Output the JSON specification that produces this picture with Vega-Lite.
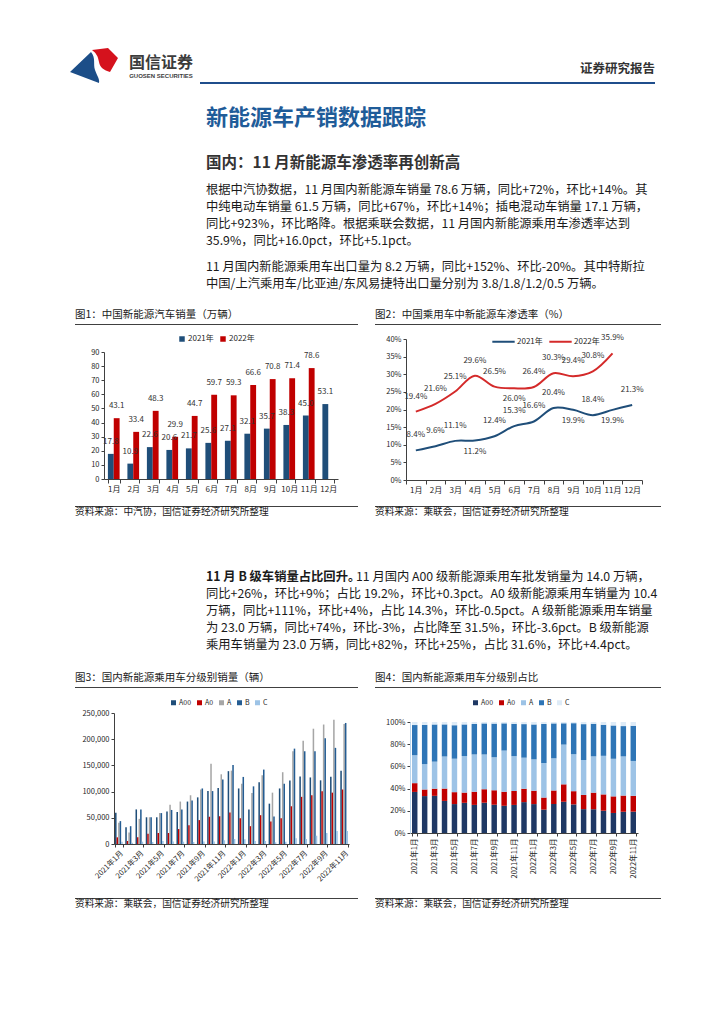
{
"$schema":"https://vega.github.io/schema/vega-lite/v6.json",
"background":"white",
"padding":0,
"spacing":0,
"bounds":"flush",
"resolve":{"scale":{"color":"independent","shape":"independent","xOffset":"independent"},"legend":{"color":"independent","shape":"independent"}},
"config":{
 "view":{"stroke":null},
 "font":"Noto Sans CJK SC",
 "concat":{"spacing":0},
 "axis":{"labelFont":"Noto Sans CJK SC","labelColor":"#262626","domainColor":"#404040","tickColor":"#404040","grid":false,"labelFontSize":8,"domainWidth":1,"tickWidth":1},
 "legend":{"labelFont":"Noto Sans CJK SC","labelColor":"#262626","labelFontSize":8}
},
"datasets":{
 "nev":[{"m":"1月","year":"2021年","v":17.8},{"m":"2月","year":"2021年","v":10.9},{"m":"3月","year":"2021年","v":22.6},{"m":"4月","year":"2021年","v":20.6},{"m":"5月","year":"2021年","v":21.7},{"m":"6月","year":"2021年","v":25.6},{"m":"7月","year":"2021年","v":27.1},{"m":"8月","year":"2021年","v":32.1},{"m":"9月","year":"2021年","v":35.7},{"m":"10月","year":"2021年","v":38.3},{"m":"11月","year":"2021年","v":45.0},{"m":"12月","year":"2021年","v":53.1},
  {"m":"1月","year":"2022年","v":43.1},{"m":"2月","year":"2022年","v":33.4},{"m":"3月","year":"2022年","v":48.3},{"m":"4月","year":"2022年","v":29.9},{"m":"5月","year":"2022年","v":44.7},{"m":"6月","year":"2022年","v":59.7},{"m":"7月","year":"2022年","v":59.3},{"m":"8月","year":"2022年","v":66.6},{"m":"9月","year":"2022年","v":70.8},{"m":"10月","year":"2022年","v":71.4},{"m":"11月","year":"2022年","v":78.6}],
 "pen":[{"m":"1月","year":"2021年","v":0.084},{"m":"2月","year":"2021年","v":0.096},{"m":"3月","year":"2021年","v":0.111},{"m":"4月","year":"2021年","v":0.112},{"m":"5月","year":"2021年","v":0.124},{"m":"6月","year":"2021年","v":0.153},{"m":"7月","year":"2021年","v":0.166},{"m":"8月","year":"2021年","v":0.204},{"m":"9月","year":"2021年","v":0.199},{"m":"10月","year":"2021年","v":0.184},{"m":"11月","year":"2021年","v":0.199},{"m":"12月","year":"2021年","v":0.213},
  {"m":"1月","year":"2022年","v":0.194},{"m":"2月","year":"2022年","v":0.216},{"m":"3月","year":"2022年","v":0.251},{"m":"4月","year":"2022年","v":0.296},{"m":"5月","year":"2022年","v":0.265},{"m":"6月","year":"2022年","v":0.260},{"m":"7月","year":"2022年","v":0.264},{"m":"8月","year":"2022年","v":0.303},{"m":"9月","year":"2022年","v":0.294},{"m":"10月","year":"2022年","v":0.308},{"m":"11月","year":"2022年","v":0.359}],
 "clsOrder":[{"cls":"A00","rank":1},{"cls":"A0","rank":2},{"cls":"A","rank":3},{"cls":"B","rank":4},{"cls":"C","rank":5}],
 "cls":[
  {"ym":"2021年1月","cls":"A00","v":59500},{"ym":"2021年1月","cls":"A0","v":12700},{"ym":"2021年1月","cls":"A","v":40500},{"ym":"2021年1月","cls":"B","v":43700},{"ym":"2021年1月","cls":"C","v":4400},
  {"ym":"2021年2月","cls":"A00","v":32000},{"ym":"2021年2月","cls":"A0","v":5700},{"ym":"2021年2月","cls":"A","v":22000},{"ym":"2021年2月","cls":"B","v":34000},{"ym":"2021年2月","cls":"C","v":2500},
  {"ym":"2021年3月","cls":"A00","v":66000},{"ym":"2021年3月","cls":"A0","v":12700},{"ym":"2021年3月","cls":"A","v":48000},{"ym":"2021年3月","cls":"B","v":66000},{"ym":"2021年3月","cls":"C","v":4400},
  {"ym":"2021年4月","cls":"A00","v":51000},{"ym":"2021年4月","cls":"A0","v":19600},{"ym":"2021年4月","cls":"A","v":51000},{"ym":"2021年4月","cls":"B","v":51000},{"ym":"2021年4月","cls":"C","v":3800},
  {"ym":"2021年5月","cls":"A00","v":51000},{"ym":"2021年5月","cls":"A0","v":21000},{"ym":"2021年5月","cls":"A","v":59000},{"ym":"2021年5月","cls":"B","v":59000},{"ym":"2021年5月","cls":"C","v":5700},
  {"ym":"2021年6月","cls":"A00","v":62000},{"ym":"2021年6月","cls":"A0","v":21000},{"ym":"2021年6月","cls":"A","v":75000},{"ym":"2021年6月","cls":"B","v":65000},{"ym":"2021年6月","cls":"C","v":5000},
  {"ym":"2021年7月","cls":"A00","v":61000},{"ym":"2021年7月","cls":"A0","v":28500},{"ym":"2021年7月","cls":"A","v":81000},{"ym":"2021年7月","cls":"B","v":66000},{"ym":"2021年7月","cls":"C","v":4400},
  {"ym":"2021年8月","cls":"A00","v":81000},{"ym":"2021年8月","cls":"A0","v":36000},{"ym":"2021年8月","cls":"A","v":93000},{"ym":"2021年8月","cls":"B","v":83000},{"ym":"2021年8月","cls":"C","v":3800},
  {"ym":"2021年9月","cls":"A00","v":89000},{"ym":"2021年9月","cls":"A0","v":45600},{"ym":"2021年9月","cls":"A","v":104000},{"ym":"2021年9月","cls":"B","v":106000},{"ym":"2021年9月","cls":"C","v":5000},
  {"ym":"2021年10月","cls":"A00","v":101000},{"ym":"2021年10月","cls":"A0","v":52000},{"ym":"2021年10月","cls":"A","v":153000},{"ym":"2021年10月","cls":"B","v":101000},{"ym":"2021年10月","cls":"C","v":5000},
  {"ym":"2021年11月","cls":"A00","v":107000},{"ym":"2021年11月","cls":"A0","v":53000},{"ym":"2021年11月","cls":"A","v":133000},{"ym":"2021年11月","cls":"B","v":123000},{"ym":"2021年11月","cls":"C","v":7000},
  {"ym":"2021年12月","cls":"A00","v":139000},{"ym":"2021年12月","cls":"A0","v":60000},{"ym":"2021年12月","cls":"A","v":140000},{"ym":"2021年12月","cls":"B","v":151000},{"ym":"2021年12月","cls":"C","v":9500},
  {"ym":"2022年1月","cls":"A00","v":106000},{"ym":"2022年1月","cls":"A0","v":49000},{"ym":"2022年1月","cls":"A","v":115000},{"ym":"2022年1月","cls":"B","v":128000},{"ym":"2022年1月","cls":"C","v":9000},
  {"ym":"2022年2月","cls":"A00","v":66000},{"ym":"2022年2月","cls":"A0","v":34000},{"ym":"2022年2月","cls":"A","v":97500},{"ym":"2022年2月","cls":"B","v":110000},{"ym":"2022年2月","cls":"C","v":5700},
  {"ym":"2022年3月","cls":"A00","v":118000},{"ym":"2022年3月","cls":"A0","v":55000},{"ym":"2022年3月","cls":"A","v":131000},{"ym":"2022年3月","cls":"B","v":142000},{"ym":"2022年3月","cls":"C","v":5700},
  {"ym":"2022年4月","cls":"A00","v":77000},{"ym":"2022年4月","cls":"A0","v":43000},{"ym":"2022年4月","cls":"A","v":98000},{"ym":"2022年4月","cls":"B","v":52500},{"ym":"2022年4月","cls":"C","v":3200},
  {"ym":"2022年5月","cls":"A00","v":106000},{"ym":"2022年5月","cls":"A0","v":49000},{"ym":"2022年5月","cls":"A","v":137000},{"ym":"2022年5月","cls":"B","v":115000},{"ym":"2022年5月","cls":"C","v":4400},
  {"ym":"2022年6月","cls":"A00","v":121000},{"ym":"2022年6月","cls":"A0","v":72000},{"ym":"2022年6月","cls":"A","v":177000},{"ym":"2022年6月","cls":"B","v":182000},{"ym":"2022年6月","cls":"C","v":10800},
  {"ym":"2022年7月","cls":"A00","v":129000},{"ym":"2022年7月","cls":"A0","v":90000},{"ym":"2022年7月","cls":"A","v":197000},{"ym":"2022年7月","cls":"B","v":177000},{"ym":"2022年7月","cls":"C","v":9500},
  {"ym":"2022年8月","cls":"A00","v":127000},{"ym":"2022年8月","cls":"A0","v":93000},{"ym":"2022年8月","cls":"A","v":220000},{"ym":"2022年8月","cls":"B","v":177000},{"ym":"2022年8月","cls":"C","v":15800},
  {"ym":"2022年9月","cls":"A00","v":121500},{"ym":"2022年9月","cls":"A0","v":100600},{"ym":"2022年9月","cls":"A","v":228000},{"ym":"2022年9月","cls":"B","v":202000},{"ym":"2022年9月","cls":"C","v":21000},
  {"ym":"2022年10月","cls":"A00","v":128500},{"ym":"2022年10月","cls":"A0","v":98000},{"ym":"2022年10月","cls":"A","v":237000},{"ym":"2022年10月","cls":"B","v":183500},{"ym":"2022年10月","cls":"C","v":24700},
  {"ym":"2022年11月","cls":"A00","v":140000},{"ym":"2022年11月","cls":"A0","v":104000},{"ym":"2022年11月","cls":"A","v":229000},{"ym":"2022年11月","cls":"B","v":231000},{"ym":"2022年11月","cls":"C","v":24700}
 ]
},
"vconcat":[
 {"width":724,"height":48,"data":{"values":[]},"mark":"point"},
 {"hconcat":[
  {"width":70,"height":1,"data":{"values":[]},"mark":"point"},
  {"width":50,"height":34,"data":{"values":[{"part":"blue"},{"part":"red"}]},"mark":{"type":"point","filled":true,"opacity":1,"size":2500,"strokeWidth":0},"encoding":{"shape":{"field":"part","type":"nominal","scale":{"domain":["blue","red"],"range":["M-1,0.28L-0.16,-0.52C0.04,-0.28,-0.08,-0.04,0,0.2C0.08,0.44,0.2,0.56,0.16,0.72Z","M-0.12,-0.6L0.52,-0.68L0.92,-0.28L0.6,0.28C0.36,0.2,0.2,0.12,0.16,-0.12C0.12,-0.36,0.04,-0.48,-0.12,-0.6Z"]},"legend":null},"color":{"field":"part","type":"nominal","scale":{"domain":["blue","red"],"range":["#1c4e88","#d5121d"]},"legend":null}}},
  {"width":6,"height":1,"data":{"values":[]},"mark":"point"},
  {"vconcat":[
    {"width":1,"height":7,"data":{"values":[]},"mark":"point"},
    {"width":70,"height":16,"data":{"values":[{"t":"国信证券"}]},"mark":{"type":"text","fontSize":16,"fontWeight":"bold","color":"#3c3c3c","baseline":"middle"},"encoding":{"text":{"field":"t"}}},
    {"width":70,"height":9,"data":{"values":[{"t":"GUOSEN SECURITIES"}]},"mark":{"type":"text","fontSize":6,"fontWeight":"bold","color":"#3c3c3c","baseline":"middle","font":"Liberation Sans"},"encoding":{"text":{"field":"t"}}}
  ],"spacing":0,"bounds":"flush"},
  {"width":74,"height":1,"data":{"values":[]},"mark":"point"},
  {"vconcat":[
    {"width":1,"height":8,"data":{"values":[]},"mark":"point"},
    {"hconcat":[
      {"width":380,"height":1,"data":{"values":[]},"mark":"point"},
      {"width":75,"height":26,"data":{"values":[{"t":"证券研究报告"}]},"mark":{"type":"text","fontSize":12.5,"fontWeight":"bold","color":"#333333","baseline":"middle"},"encoding":{"text":{"field":"t"}}}
    ],"spacing":0,"bounds":"flush"},
    {"width":1,"height":26,"data":{"values":[]},"mark":"point"},
    {"width":455,"height":2,"data":{"values":[{}]},"mark":{"type":"rect","color":"#1f4e8c"}}
  ],"spacing":0,"bounds":"flush"}
 ],"spacing":0,"bounds":"flush"},
 {"width":724,"height":36,"data":{"values":[]},"mark":"point"},
 {"hconcat":[
  {"width":206,"height":1,"data":{"values":[]},"mark":"point"},
  {"vconcat":[
    {"width":1,"height":24,"data":{"values":[]},"mark":"point"},
    {"width":450,"height":20,"data":{"values":[{"t":"新能源车产销数据跟踪"}]},"mark":{"type":"text","align":"left","baseline":"middle","fontSize":22,"fontWeight":"bold","color":"#1f5c99"},"encoding":{"text":{"field":"t"},"x":{"value":0}}},
    {"width":1,"height":26,"data":{"values":[]},"mark":"point"},
    {"width":450,"height":17,"data":{"values":[{"t":"国内：11 月新能源车渗透率再创新高"}]},"mark":{"type":"text","align":"left","baseline":"middle","fontSize":15.5,"fontWeight":"bold","color":"#333333"},"encoding":{"text":{"field":"t"},"x":{"value":0}}},
    {"width":1,"height":10,"data":{"values":[]},"mark":"point"},
    {"width":450,"height":68,"data":{"values":[
      {"i":1,"t":"根据中汽协数据，11 月国内新能源车销量 78.6 万辆，同比+72%，环比+14%。其"},
      {"i":2,"t":"中纯电动车销量 61.5 万辆，同比+67%，环比+14%；插电混动车销量 17.1 万辆，"},
      {"i":3,"t":"同比+923%，环比略降。根据乘联会数据，11 月国内新能源乘用车渗透率达到"},
      {"i":4,"t":"35.9%，同比+16.0pct，环比+5.1pct。"}]},
     "mark":{"type":"text","align":"left","baseline":"middle","fontSize":12.3,"color":"#1a1a1a"},"encoding":{"text":{"field":"t"},"x":{"value":0},"y":{"field":"i","type":"ordinal","axis":null}}},
    {"width":1,"height":9,"data":{"values":[]},"mark":"point"},
    {"width":450,"height":34,"data":{"values":[
      {"i":1,"t":"11 月国内新能源乘用车出口量为 8.2 万辆，同比+152%、环比-20%。其中特斯拉"},
      {"i":2,"t":"中国/上汽乘用车/比亚迪/东风易捷特出口量分别为 3.8/1.8/1.2/0.5 万辆。"}]},
     "mark":{"type":"text","align":"left","baseline":"middle","fontSize":12.3,"color":"#1a1a1a"},"encoding":{"text":{"field":"t"},"x":{"value":0},"y":{"field":"i","type":"ordinal","axis":null}}}
  ],"spacing":0,"bounds":"flush"}
 ],"spacing":0,"bounds":"flush"},
 {"width":724,"height":216,"data":{"values":[]},"mark":"point"},
 {"hconcat":[
  {"width":75,"height":1,"data":{"values":[]},"mark":"point"},
  {"vconcat":[
    {"width":1,"height":6,"data":{"values":[]},"mark":"point"},
    {"width":283,"height":18,"data":{"values":[{"t":"图1：中国新能源汽车销量（万辆）"}]},"mark":{"type":"text","align":"left","baseline":"middle","fontSize":10.5,"color":"#1a1a1a"},"encoding":{"text":{"field":"t"},"x":{"value":0}}},
    {"width":283,"height":1,"data":{"values":[{}]},"mark":{"type":"rect","color":"#404040"}},
    {"width":1,"height":27,"data":{"values":[]},"mark":"point"},
    {"hconcat":[
      {"width":29,"height":1,"data":{"values":[]},"mark":"point"},
      {"width":234,"height":127,"data":{"name":"nev"},
       "encoding":{
         "x":{"field":"m","type":"ordinal","sort":["1月","2月","3月","4月","5月","6月","7月","8月","9月","10月","11月","12月"],"title":null,"scale":{"paddingInner":0.4,"paddingOuter":0.2},"axis":{"labelAngle":0,"tickBand":"extent","tickSize":4,"labelPadding":2,"labelFontSize":8}},
         "xOffset":{"field":"year","type":"nominal","sort":["2021年","2022年"],"scale":{"paddingInner":0,"paddingOuter":0}},
         "y":{"field":"v","type":"quantitative","title":null,"scale":{"domain":[0,90],"nice":false},"axis":{"values":[0,10,20,30,40,50,60,70,80,90],"tickSize":3,"labelPadding":2,"labelFontSize":7.5}}
       },
       "layer":[
         {"mark":{"type":"bar"},"encoding":{"color":{"field":"year","type":"nominal","scale":{"domain":["2021年","2022年"],"range":["#1f4e79","#c00000"]},"legend":{"orient":"none","legendX":74,"legendY":-17,"direction":"horizontal","title":null,"symbolType":"square","symbolSize":30,"labelFontSize":8,"columnPadding":5,"labelOffset":2,"symbolStrokeWidth":0}}}},
         {"mark":{"type":"text","baseline":"middle","dy":-12,"fontSize":8,"color":"#333333"},"encoding":{"text":{"field":"v","type":"quantitative","format":".1f"}}}
       ]}
    ],"spacing":0,"bounds":"flush","resolve":{"scale":{"color":"independent","xOffset":"independent"},"legend":{"color":"independent"}}},
    {"width":1,"height":154,"data":{"values":[]},"mark":"point"},
    {"width":283,"height":1,"data":{"values":[{}]},"mark":{"type":"rect","color":"#404040"}},
    {"width":283,"height":10,"data":{"values":[{"t":"资料来源：中汽协，国信证券经济研究所整理"}]},"mark":{"type":"text","align":"left","baseline":"middle","fontSize":9.7,"color":"#1a1a1a"},"encoding":{"text":{"field":"t"},"x":{"value":0}}}
  ],"spacing":0,"bounds":"flush","resolve":{"scale":{"color":"independent","xOffset":"independent"},"legend":{"color":"independent"}}},
  {"width":300,"height":1,"data":{"values":[]},"mark":"point"},
  {"vconcat":[
    {"width":1,"height":6,"data":{"values":[]},"mark":"point"},
    {"width":286,"height":18,"data":{"values":[{"t":"图2：中国乘用车中新能源车渗透率（%）"}]},"mark":{"type":"text","align":"left","baseline":"middle","fontSize":10.5,"color":"#1a1a1a"},"encoding":{"text":{"field":"t"},"x":{"value":0}}},
    {"width":286,"height":1,"data":{"values":[{}]},"mark":{"type":"rect","color":"#404040"}},
    {"width":1,"height":14,"data":{"values":[]},"mark":"point"},
    {"hconcat":[
      {"width":31,"height":1,"data":{"values":[]},"mark":"point"},
      {"width":236,"height":141,"data":{"name":"pen"},
       "encoding":{
         "x":{"field":"m","type":"ordinal","sort":["1月","2月","3月","4月","5月","6月","7月","8月","9月","10月","11月","12月"],"title":null,"scale":{"type":"band","paddingInner":0,"paddingOuter":0},"axis":{"labelAngle":0,"tickBand":"extent","tickSize":4,"labelPadding":2,"labelFontSize":8}},
         "y":{"field":"v","type":"quantitative","title":null,"scale":{"domain":[0,0.4],"nice":false},"axis":{"format":".0%","values":[0,0.05,0.1,0.15,0.2,0.25,0.3,0.35,0.4],"tickSize":3,"labelPadding":2,"labelFontSize":7.5}}
       },
       "layer":[
         {"mark":{"type":"line","interpolate":"catmull-rom","strokeWidth":2},"encoding":{"color":{"field":"year","type":"nominal","scale":{"domain":["2021年","2022年"],"range":["#1f4e79","#d42a2a"]},"legend":{"orient":"none","legendX":85,"legendY":-10,"direction":"horizontal","title":null,"symbolType":"stroke","symbolSize":500,"symbolStrokeWidth":2,"labelFontSize":8,"columnPadding":2,"labelOffset":1}}}},
         {"transform":[{"filter":"!((datum.year=='2021年'&&(datum.m=='4月'||datum.m=='9月'||datum.m=='11月'))||(datum.year=='2022年'&&datum.m=='6月'))"}],"mark":{"type":"text","baseline":"middle","dy":-15,"fontSize":8,"color":"#333333"},"encoding":{"text":{"field":"v","type":"quantitative","format":".1%"}}},
         {"transform":[{"filter":"(datum.year=='2021年'&&(datum.m=='4月'||datum.m=='9月'||datum.m=='11月'))||(datum.year=='2022年'&&datum.m=='6月')"}],"mark":{"type":"text","baseline":"middle","dy":11,"fontSize":8,"color":"#333333"},"encoding":{"text":{"field":"v","type":"quantitative","format":".1%"}}}
       ]}
    ],"spacing":0,"bounds":"flush","resolve":{"scale":{"color":"independent"},"legend":{"color":"independent"}}},
    {"width":1,"height":167,"data":{"values":[]},"mark":"point"},
    {"width":286,"height":1,"data":{"values":[{}]},"mark":{"type":"rect","color":"#404040"}},
    {"width":286,"height":10,"data":{"values":[{"t":"资料来源：乘联会，国信证券经济研究所整理"}]},"mark":{"type":"text","align":"left","baseline":"middle","fontSize":9.7,"color":"#1a1a1a"},"encoding":{"text":{"field":"t"},"x":{"value":0}}}
  ],"spacing":0,"bounds":"flush","resolve":{"scale":{"color":"independent"},"legend":{"color":"independent"}}}
 ],"spacing":0,"bounds":"flush","resolve":{"scale":{"color":"independent","xOffset":"independent"},"legend":{"color":"independent"}}},
 {"width":724,"height":217,"data":{"values":[]},"mark":"point"},
 {"hconcat":[
  {"width":206,"height":1,"data":{"values":[]},"mark":"point"},
  {"vconcat":[
    {"width":1,"height":51,"data":{"values":[]},"mark":"point"},
    {"hconcat":[
      {"width":150,"height":17,"data":{"values":[{"t":"11 月 B 级车销量占比回升。"}]},"mark":{"type":"text","align":"left","baseline":"middle","fontSize":12.3,"fontWeight":"bold","color":"#1a1a1a"},"encoding":{"text":{"field":"t"},"x":{"value":0}}},
      {"width":300,"height":17,"data":{"values":[{"t":"11 月国内 A00 级新能源乘用车批发销量为 14.0 万辆，"}]},"mark":{"type":"text","align":"left","baseline":"middle","fontSize":12.3,"color":"#1a1a1a"},"encoding":{"text":{"field":"t"},"x":{"value":0}}}
    ],"spacing":0,"bounds":"flush"},
    {"width":1,"height":17,"data":{"values":[]},"mark":"point"},
    {"width":450,"height":68,"data":{"values":[
      {"i":2,"t":"同比+26%，环比+9%；占比 19.2%，环比+0.3pct。A0 级新能源乘用车销量为 10.4"},
      {"i":3,"t":"万辆，同比+111%，环比+4%，占比 14.3%，环比-0.5pct。A 级新能源乘用车销量"},
      {"i":4,"t":"为 23.0 万辆，同比+74%，环比-3%，占比降至 31.5%，环比-3.6pct。B 级新能源"},
      {"i":5,"t":"乘用车销量为 23.0 万辆，同比+82%，环比+25%，占比 31.6%，环比+4.4pct。"}]},
     "mark":{"type":"text","align":"left","baseline":"middle","fontSize":12.3,"color":"#1a1a1a"},"encoding":{"text":{"field":"t"},"x":{"value":0},"y":{"field":"i","type":"ordinal","axis":null}}}
  ],"spacing":0,"bounds":"flush"}
 ],"spacing":0,"bounds":"flush"},
 {"width":724,"height":148,"data":{"values":[]},"mark":"point"},
 {"hconcat":[
  {"width":75,"height":1,"data":{"values":[]},"mark":"point"},
  {"vconcat":[
    {"width":1,"height":4,"data":{"values":[]},"mark":"point"},
    {"width":283,"height":18,"data":{"values":[{"t":"图3：国内新能源乘用车分级别销量（辆）"}]},"mark":{"type":"text","align":"left","baseline":"middle","fontSize":10.5,"color":"#1a1a1a"},"encoding":{"text":{"field":"t"},"x":{"value":0}}},
    {"width":283,"height":1,"data":{"values":[{}]},"mark":{"type":"rect","color":"#404040"}},
    {"width":1,"height":25,"data":{"values":[]},"mark":"point"},
    {"hconcat":[
      {"width":39,"height":1,"data":{"values":[]},"mark":"point"},
      {"width":235,"height":131,"data":{"name":"cls"},"mark":{"type":"bar"},
       "encoding":{
         "x":{"field":"ym","type":"ordinal","sort":null,"title":null,"scale":{"paddingInner":0.25,"paddingOuter":0.1},"axis":{"values":["2021年1月","2021年3月","2021年5月","2021年7月","2021年9月","2021年11月","2022年1月","2022年3月","2022年5月","2022年7月","2022年9月","2022年11月"],"labelAngle":-45,"tickBand":"extent","tickSize":3,"labelPadding":2,"labelFontSize":7.5}},
         "xOffset":{"field":"cls","type":"nominal","sort":["A00","A0","A","B","C"],"scale":{"paddingInner":0,"paddingOuter":0}},
         "y":{"field":"v","type":"quantitative","title":null,"scale":{"domain":[0,250000],"nice":false},"axis":{"values":[0,50000,100000,150000,200000,250000],"format":",.0f","tickSize":3,"labelPadding":2,"labelFontSize":7.5}},
         "color":{"field":"cls","type":"nominal","scale":{"domain":["A00","A0","A","B","C"],"range":["#1f4e79","#c00000","#a6a6a6","#255d93","#9dc3e6"]},"legend":{"orient":"none","legendX":56,"legendY":-14,"direction":"horizontal","title":null,"symbolType":"square","symbolSize":25,"labelFontSize":7,"columnPadding":4,"labelOffset":2,"symbolStrokeWidth":0}}
       }}
    ],"spacing":0,"bounds":"flush","resolve":{"scale":{"color":"independent","xOffset":"independent"},"legend":{"color":"independent"}}},
    {"width":1,"height":185,"data":{"values":[]},"mark":"point"},
    {"width":283,"height":1,"data":{"values":[{}]},"mark":{"type":"rect","color":"#404040"}},
    {"width":283,"height":10,"data":{"values":[{"t":"资料来源：乘联会，国信证券经济研究所整理"}]},"mark":{"type":"text","align":"left","baseline":"middle","fontSize":9.7,"color":"#1a1a1a"},"encoding":{"text":{"field":"t"},"x":{"value":0}}}
  ],"spacing":0,"bounds":"flush","resolve":{"scale":{"color":"independent","xOffset":"independent"},"legend":{"color":"independent"}}},
  {"width":300,"height":1,"data":{"values":[]},"mark":"point"},
  {"vconcat":[
    {"width":1,"height":4,"data":{"values":[]},"mark":"point"},
    {"width":286,"height":18,"data":{"values":[{"t":"图4：国内新能源乘用车分级别占比"}]},"mark":{"type":"text","align":"left","baseline":"middle","fontSize":10.5,"color":"#1a1a1a"},"encoding":{"text":{"field":"t"},"x":{"value":0}}},
    {"width":286,"height":1,"data":{"values":[{}]},"mark":{"type":"rect","color":"#404040"}},
    {"width":1,"height":34,"data":{"values":[]},"mark":"point"},
    {"hconcat":[
      {"width":35,"height":1,"data":{"values":[]},"mark":"point"},
      {"width":228,"height":111,"data":{"name":"cls"},
       "transform":[{"lookup":"cls","from":{"data":{"name":"clsOrder"},"key":"cls","fields":["rank"]}}],
       "mark":{"type":"bar"},
       "encoding":{
         "x":{"field":"ym","type":"ordinal","sort":null,"title":null,"scale":{"paddingInner":0.45,"paddingOuter":0.2},"axis":{"values":["2021年1月","2021年3月","2021年5月","2021年7月","2021年9月","2021年11月","2022年1月","2022年3月","2022年5月","2022年7月","2022年9月","2022年11月"],"labelAngle":-90,"tickBand":"extent","tickSize":3,"labelPadding":2,"labelFontSize":7.5}},
         "y":{"field":"v","type":"quantitative","stack":"normalize","title":null,"scale":{"domain":[0,1],"nice":false},"axis":{"format":".0%","values":[0,0.2,0.4,0.6,0.8,1],"tickSize":3,"labelPadding":2,"labelFontSize":7.5,"domainColor":"#bdd7ee"}},
         "order":{"field":"rank","type":"quantitative","sort":"ascending"},
         "color":{"field":"cls","type":"nominal","scale":{"domain":["A00","A0","A","B","C"],"range":["#1f3864","#c00000","#9dc3e6","#2e75b6","#deebf7"]},"legend":{"orient":"none","legendX":62,"legendY":-23,"direction":"horizontal","title":null,"symbolType":"square","symbolSize":25,"labelFontSize":7,"columnPadding":4,"labelOffset":2,"symbolStrokeWidth":0}}
       }}
    ],"spacing":0,"bounds":"flush","resolve":{"scale":{"color":"independent"},"legend":{"color":"independent"}}},
    {"width":1,"height":176,"data":{"values":[]},"mark":"point"},
    {"width":286,"height":1,"data":{"values":[{}]},"mark":{"type":"rect","color":"#404040"}},
    {"width":286,"height":10,"data":{"values":[{"t":"资料来源：乘联会，国信证券经济研究所整理"}]},"mark":{"type":"text","align":"left","baseline":"middle","fontSize":9.7,"color":"#1a1a1a"},"encoding":{"text":{"field":"t"},"x":{"value":0}}}
  ],"spacing":0,"bounds":"flush","resolve":{"scale":{"color":"independent"},"legend":{"color":"independent"}}}
 ],"spacing":0,"bounds":"flush","resolve":{"scale":{"color":"independent","xOffset":"independent"},"legend":{"color":"independent"}}},
 {"width":724,"height":359,"data":{"values":[]},"mark":"point"}
]
}
